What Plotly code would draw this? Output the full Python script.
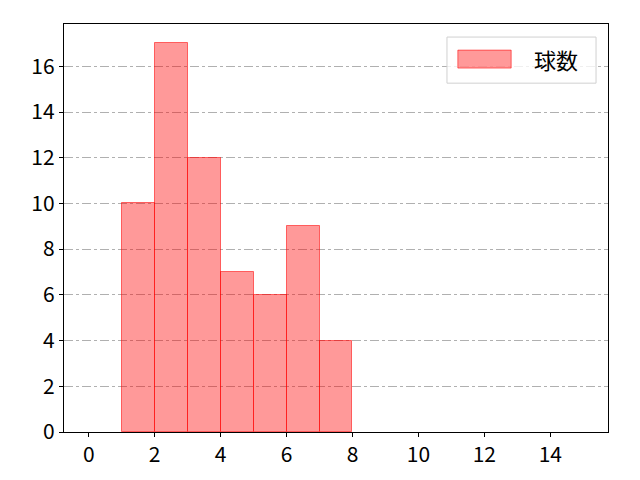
import plotly.graph_objects as go

# histogram bins (left edges) and counts
bin_left = [1, 2, 3, 4, 5, 6, 7]
counts = [10, 17, 12, 7, 6, 9, 4]
bin_width = 1
series_name = "球数"
x_ticks = [0, 2, 4, 6, 8, 10, 12, 14]
y_ticks = [0, 2, 4, 6, 8, 10, 12, 14, 16]

fill = "rgba(255,0,0,0.4)"
edge = "rgba(255,0,0,0.55)"
centers = [b + bin_width / 2 for b in bin_left]

fig = go.Figure()
fig.add_trace(go.Bar(
    x=centers,
    y=counts,
    width=bin_width,
    name=series_name,
    marker=dict(color=fill, line=dict(color=edge, width=1)),
    showlegend=False,
))

# matplotlib-style legend box drawn by hand
fig.add_shape(type="rect", xref="paper", yref="paper",
              x0=0.704, x1=0.978, y0=0.855, y1=0.968,
              line=dict(color="#d0d0d0", width=1), fillcolor="rgba(255,255,255,0.8)")
fig.add_shape(type="rect", xref="paper", yref="paper",
              x0=0.724, x1=0.822, y0=0.892, y1=0.936,
              line=dict(color=edge, width=1), fillcolor=fill)
fig.add_annotation(xref="paper", yref="paper", x=0.86, y=0.914,
                   xanchor="left", yanchor="middle", text=series_name,
                   showarrow=False, font=dict(size=22))

font = "Noto Sans CJK JP, DejaVu Sans, sans-serif"
fig.update_layout(
    width=640, height=480,
    margin=dict(l=56, r=40, t=16, b=56),
    plot_bgcolor="white", paper_bgcolor="white",
    font=dict(family=font, size=21, color="black"),
    bargap=0,
    xaxis=dict(
        range=[-0.75, 15.75], tickvals=x_ticks, showgrid=False, zeroline=False,
        showline=True, linecolor="black", linewidth=1.3, mirror=True,
        ticks="outside", ticklen=4, tickcolor="black",
    ),
    yaxis=dict(
        range=[0, 17.85], tickvals=y_ticks, zeroline=False,
        showgrid=True, gridcolor="#b0b0b0", griddash="dashdot", gridwidth=1,
        showline=True, linecolor="black", linewidth=1.3, mirror=True,
        ticks="outside", ticklen=4, tickcolor="black",
    ),
)

fig.write_html("out.html")
